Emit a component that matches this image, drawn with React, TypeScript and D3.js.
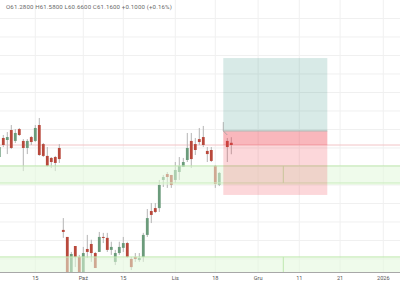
import React from "react";
import * as d3 from "d3";

// Daily candles (bar index, OHLC)
const idx = [0,1,2,3,4,5,6,7,8,9,10,11,12,13,14,15,16,17,18,19,20,21,22,23,24,25,26,27,28,29,30,31,32,33,34,35,36,37,38,39,40,41,42,43,44,45,46,47,48,49,50,51,52,53,54,55,57,58];
const open = [60.51,61.54,61.43,61.97,61.38,62.02,61.38,61.0,61.59,61.38,62.24,61.21,60.57,60.46,60.51,61.0,56.57,56.19,54.13,55.7,55.11,54.13,55.54,55.81,55.32,55.38,56.19,56.14,55.49,54.84,55.32,55.6,55.86,55.0,55.11,54.94,55.11,56.3,57.59,57.75,57.75,59.27,59.59,59.54,59.27,59.7,59.97,60.35,61.38,61.21,61.48,61.59,60.84,60.89,60.03,59.0,61.38,61.28];
const high = [61.16,61.7,61.86,62.24,62.02,62.08,61.48,61.48,61.65,62.24,62.62,61.27,61.05,60.51,60.57,61.21,57.21,56.19,55.38,55.7,55.22,55.65,56.3,56.04,55.38,56.46,56.41,56.41,55.93,55.49,55.93,56.19,55.93,55.11,55.32,55.32,56.41,57.7,58.02,58.02,59.27,59.54,59.7,59.54,60.24,60.51,60.46,61.81,61.81,61.54,62.08,62.19,61.05,61.05,60.08,59.7,61.54,61.58];
const low = [60.4,61.05,60.67,60.94,61.27,61.65,59.75,60.67,61.16,61.32,60.57,60.51,59.97,59.92,59.75,60.19,56.14,53.86,53.86,54.56,53.86,53.86,55.05,54.84,54.51,55.38,55.86,55.38,55.22,54.67,55.22,55.38,55.05,54.4,54.84,54.84,54.84,56.19,56.94,57.48,57.54,58.89,58.84,58.84,59.11,59.27,59.97,60.24,59.92,60.62,61.16,61.05,60.24,60.24,58.84,58.94,60.24,60.66];
const close = [61.05,61.16,61.59,61.0,61.81,61.7,61.0,61.38,61.32,62.08,60.62,60.57,60.03,60.24,60.19,60.4,56.46,54.13,55.27,55.11,54.13,55.32,55.38,55.32,54.51,56.19,56.14,55.49,55.65,55.32,55.65,55.86,55.11,54.56,55.0,55.05,56.3,57.21,57.38,57.54,59.0,59.43,59.43,59.0,59.81,60.03,60.24,61.0,60.4,60.89,61.32,61.16,60.67,60.3,59.05,59.65,61.05,61.16];

// Time axis ticks (bar index positions, labels)
const tickIdx = [9, 21, 31, 44, 54, 64.7, 75, 85.2, 96];
const tickLabels = ["15", "Paź", "15", "Lis", "18", "Gru", "11", "21", "2026"];

// Price grid levels
const priceGrid = [55, 56, 57, 58, 59, 60, 61, 62, 63, 64, 65, 66, 67, 68];

// Support zones [top, bottom] and the index where the drawn box ends
const zoneTops = [60.03, 55.11];
const zoneInner = [59.11, 54.0];
const zoneBottoms = [59.0, 53.5];
const zoneEndIdx = 71;

// Long position tool
const posStart = 56;
const posEnd = 82;
const posTarget = 65.86;
const posEntry = 61.92;
const posStop = 58.46;
const lastPrice = 61.16;

const header = "O61.2800 H61.5800 L60.6600 C61.1600 +0.1000 (+0.16%)";

const W = 400;
const H = 284;
const plotBottom = 272;

export default function App() {
  const x = d3.scaleLinear().domain([0, 1]).range([-0.7, 3.3]);
  const y = d3.scaleLinear().domain([54.295, 68.998]).range([plotBottom, 0]);
  const red = "#b8483b";
  const green = "#6b9b7b";
  const bw = 2.8;
  const font = "Roboto, 'Noto Sans', sans-serif";

  return (
    <svg
      width={W}
      height={H}
      style={{ position: "fixed", left: 0, top: 0, background: "#fff" }}
      xmlns="http://www.w3.org/2000/svg"
    >
      <rect x={0} y={0} width={W} height={H} fill="#fff" />
      <defs>
        <clipPath id="plot">
          <rect x={0} y={0} width={W} height={plotBottom} />
        </clipPath>
      </defs>
      {/* grid */}
      {priceGrid.map((p) => (
        <line key={"h" + p} x1={0} x2={W} y1={y(p)} y2={y(p)} stroke="#f0f0f0" strokeWidth={1} />
      ))}
      {tickIdx.map((t, i) => (
        <line key={"v" + i} x1={x(t)} x2={x(t)} y1={0} y2={plotBottom} stroke="#f0f0f0" strokeWidth={1} />
      ))}
      <g clipPath="url(#plot)">
        {/* last price line */}
        <line x1={0} x2={W} y1={y(lastPrice)} y2={y(lastPrice)} stroke="#f2c4c6" strokeWidth={1} />
        {/* candles */}
        {idx.map((t, i) => {
          const up = close[i] >= open[i];
          const cx = x(t);
          const top = y(Math.max(open[i], close[i]));
          const bot = y(Math.min(open[i], close[i]));
          return (
            <g key={"c" + t}>
              <line x1={cx} x2={cx} y1={y(high[i])} y2={y(low[i])} stroke="#b4b4b4" strokeWidth={1} />
              <rect x={cx - bw / 2} y={top} width={bw} height={Math.max(1, bot - top)} fill={up ? green : red} />
            </g>
          );
        })}
        {/* zones */}
        {zoneTops.map((zt, i) => (
          <g key={"z" + i}>
            <rect x={0} y={y(zt)} width={W} height={y(zoneBottoms[i]) - y(zt)} fill="rgb(225,248,218)" fillOpacity={0.55} />
            <line x1={0} x2={W} y1={y(zt)} y2={y(zt)} stroke="#bfe8b0" strokeWidth={1} />
            <line x1={0} x2={W} y1={y(zoneInner[i])} y2={y(zoneInner[i])} stroke="#cdeec0" strokeWidth={1} />
            <line x1={x(zoneEndIdx)} x2={x(zoneEndIdx)} y1={y(zt)} y2={y(zoneInner[i])} stroke="#bfe8b0" strokeWidth={1} />
          </g>
        ))}
        {/* position tool */}
        <rect x={x(posStart)} y={y(posTarget)} width={x(posEnd) - x(posStart)} height={y(posEntry) - y(posTarget)} fill="rgb(40,140,122)" fillOpacity={0.18} />
        <rect x={x(posStart)} y={y(posEntry)} width={x(posEnd) - x(posStart)} height={y(posStop) - y(posEntry)} fill="rgb(242,54,69)" fillOpacity={0.2} />
        <rect x={x(posStart)} y={y(posEntry)} width={x(posEnd) - x(posStart)} height={y(lastPrice) - y(posEntry)} fill="rgb(242,54,69)" fillOpacity={0.2} />
        <line x1={x(posStart)} x2={x(posEnd)} y1={y(posEntry)} y2={y(posEntry)} stroke="#a9b8b4" strokeWidth={1} />
        <path
          d={`M${x(posStart)},${y(62.4)}L${x(posStart)},${y(posEntry)}L${x(posStart + 1)},${y(61.7)}`}
          fill="none"
          stroke="#a0a0a0"
          strokeWidth={0.8}
        />
      </g>
      {/* time axis */}
      <line x1={0} x2={W} y1={plotBottom + 0.5} y2={plotBottom + 0.5} stroke="#a8a8a8" strokeWidth={1} />
      {tickIdx.map((t, i) => (
        <text key={"t" + i} x={x(t)} y={280} textAnchor="middle" fontSize={5.6} fill="#555" fontFamily={font}>
          {tickLabels[i]}
        </text>
      ))}
      <text x={6} y={9} fontSize={6.1} letterSpacing={0.15} fill="#6a6a6a" fontFamily={font}>
        {header}
      </text>
    </svg>
  );
}
